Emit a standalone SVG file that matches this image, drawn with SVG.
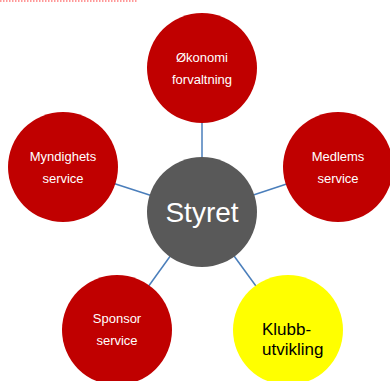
<svg xmlns="http://www.w3.org/2000/svg" width="390" height="381" viewBox="0 0 390 381">
<style>
.red{fill:#C00000}
.lbl{font-family:"Liberation Sans",Arial,sans-serif;font-size:13px;fill:#FFFFFF;text-anchor:middle}
.conn line{stroke:#4A7EBB;stroke-width:1.5}
</style>
<rect width="390" height="381" fill="#FFFFFF"/>
<line x1="0" y1="1" x2="138" y2="1" stroke="#FF7777" stroke-width="1.5" stroke-dasharray="1.5 1.5"/>
<g id="connectors" class="conn">
<line x1="202" y1="212" x2="202" y2="68"/>
<line x1="202" y1="212" x2="63" y2="167"/>
<line x1="202" y1="212" x2="338" y2="167"/>
<line x1="202" y1="212" x2="117" y2="330"/>
<line x1="202" y1="212" x2="288" y2="330"/>
</g>
<g id="okonomi">
<circle class="red" cx="202" cy="68" r="55"/>
<text class="lbl" x="202" y="62">Økonomi</text>
<text class="lbl" x="202" y="84">forvaltning</text>
</g>
<g id="myndighets">
<circle class="red" cx="63" cy="167" r="55"/>
<text class="lbl" x="63" y="161">Myndighets</text>
<text class="lbl" x="63" y="183">service</text>
</g>
<g id="medlems">
<circle class="red" cx="338" cy="167" r="55"/>
<text class="lbl" x="338" y="161">Medlems</text>
<text class="lbl" x="338" y="183">service</text>
</g>
<g id="sponsor">
<circle class="red" cx="117" cy="330" r="55"/>
<text class="lbl" x="117" y="323">Sponsor</text>
<text class="lbl" x="117" y="345">service</text>
</g>
<g id="klubb">
<circle cx="288" cy="330" r="55" fill="#FFFF00"/>
<text x="262" y="335" font-family="Liberation Sans, Arial, sans-serif" font-size="17" fill="#000000">Klubb-</text>
<text x="262" y="355" font-family="Liberation Sans, Arial, sans-serif" font-size="17" fill="#000000">utvikling</text>
</g>
<g id="styret">
<circle cx="202" cy="212" r="55" fill="#595959"/>
<text x="202" y="222" font-family="Liberation Sans, Arial, sans-serif" font-size="28" fill="#FFFFFF" text-anchor="middle">Styret</text>
</g>
</svg>
